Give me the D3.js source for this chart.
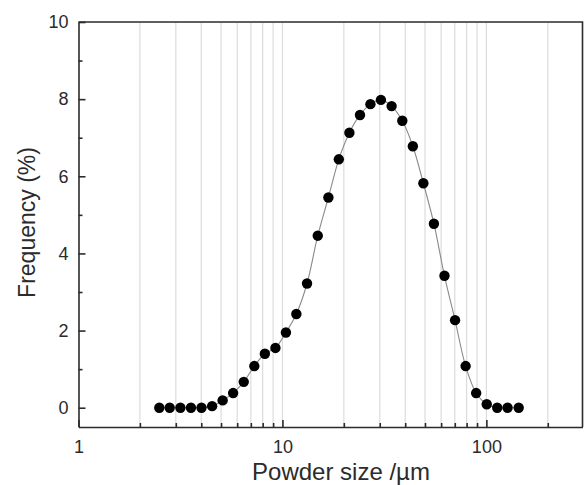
<!DOCTYPE html>
<html>
<head>
<meta charset="utf-8">
<script src="https://cdn.jsdelivr.net/npm/d3@7"></script>
<style>
  html, body { margin: 0; padding: 0; background: #fff; }
  svg { display: block; font-family: "Liberation Sans", Arial, sans-serif; }
</style>
</head>
<body>
<svg id="chart" width="584" height="485"></svg>
<script>
// Particle size (µm) of each measured class
const sizes = [2.49, 2.80, 3.16, 3.56, 4.01, 4.52, 5.09, 5.73, 6.46, 7.28,
               8.20, 9.24, 10.4, 11.7, 13.2, 14.9, 16.8, 18.9, 21.3, 24.0,
               27.0, 30.4, 34.3, 38.7, 43.6, 49.1, 55.3, 62.3, 70.2, 79.1,
               89.1, 100.4, 113, 127, 144];
// Frequency (%) of each class
const freq = [0, 0, 0, 0, 0, 0.04, 0.19, 0.38, 0.67, 1.08,
              1.40, 1.55, 1.95, 2.43, 3.22, 4.46, 5.45, 6.44, 7.13, 7.59,
              7.87, 7.98, 7.82, 7.44, 6.78, 5.82, 4.77, 3.42, 2.27, 1.08,
              0.38, 0.09, 0, 0, 0];
const xMajorTicks = [1, 10, 100];
const xMinorTicks = [2, 3, 4, 5, 6, 7, 8, 9, 20, 30, 40, 50, 60, 70, 80, 90, 200];
const yMajorTicks = [0, 2, 4, 6, 8, 10];
const yMinorTicks = [1, 3, 5, 7, 9];

const svg = d3.select("#chart");
const pLeft = 78.5, pRight = 582.5, pTop = 22, pBottom = 427;

const x = d3.scaleLog().domain([1, 296]).range([pLeft, pRight]);
const y = d3.scaleLinear().domain([-0.5, 10]).range([pBottom, pTop]);

const ink = "#2b2b2b";

// vertical grid at every decade tick
svg.append("g")
  .selectAll("line")
  .data(xMinorTicks.concat([10, 100]))
  .join("line")
  .attr("x1", d => x(d)).attr("x2", d => x(d))
  .attr("y1", pTop).attr("y2", pBottom)
  .attr("stroke", "#dcdcdc").attr("stroke-width", 1.2);

// bottom axis: ticks point into the plot
const xAxis = svg.append("g").attr("transform", `translate(0,${pBottom})`);
xAxis.call(d3.axisBottom(x).tickValues(xMajorTicks).tickFormat(d3.format("d"))
  .tickSizeInner(-7).tickSizeOuter(0).tickPadding(13));
const xMinor = svg.append("g").attr("transform", `translate(0,${pBottom})`);
xMinor.call(d3.axisBottom(x).tickValues(xMinorTicks).tickFormat("")
  .tickSizeInner(-4).tickSizeOuter(0));
xMinor.select(".domain").remove();

// left axis: ticks point into the plot
const yAxis = svg.append("g").attr("transform", `translate(${pLeft},0)`);
yAxis.call(d3.axisLeft(y).tickValues(yMajorTicks).tickFormat(d3.format("d"))
  .tickSizeInner(-7).tickSizeOuter(0).tickPadding(10));
const yMinor = svg.append("g").attr("transform", `translate(${pLeft},0)`);
yMinor.call(d3.axisLeft(y).tickValues(yMinorTicks).tickFormat("")
  .tickSizeInner(-4).tickSizeOuter(0));
yMinor.select(".domain").remove();

svg.selectAll(".domain, .tick line").attr("stroke", ink).attr("stroke-width", 1.6);
svg.selectAll(".tick text").attr("fill", ink).attr("font-size", 18)
  .attr("font-family", "Liberation Sans, Arial, sans-serif");

// top and right frame
svg.append("path")
  .attr("d", `M${pLeft},${pTop}H${pRight}V${pBottom}`)
  .attr("fill", "none").attr("stroke", ink).attr("stroke-width", 1.6);

// smooth connecting line
const pts = sizes.map((s, i) => [s, freq[i]]);
svg.append("path")
  .datum(pts)
  .attr("d", d3.line().x(d => x(d[0])).y(d => y(d[1])).curve(d3.curveCatmullRom))
  .attr("fill", "none").attr("stroke", "#8a8a8a").attr("stroke-width", 1.1);

// data markers
svg.append("g")
  .selectAll("circle")
  .data(pts)
  .join("circle")
  .attr("cx", d => x(d[0])).attr("cy", d => y(d[1]))
  .attr("r", 5.2).attr("fill", "#000");

// axis titles
svg.append("text")
  .attr("x", 341).attr("y", 480)
  .attr("text-anchor", "middle").attr("font-size", 24).attr("fill", ink)
  .text("Powder size /µm");
svg.append("text")
  .attr("transform", `translate(35,${(pTop + pBottom) / 2 - 2}) rotate(-90)`)
  .attr("text-anchor", "middle").attr("font-size", 23).attr("fill", ink)
  .text("Frequency (%)");
</script>
</body>
</html>
